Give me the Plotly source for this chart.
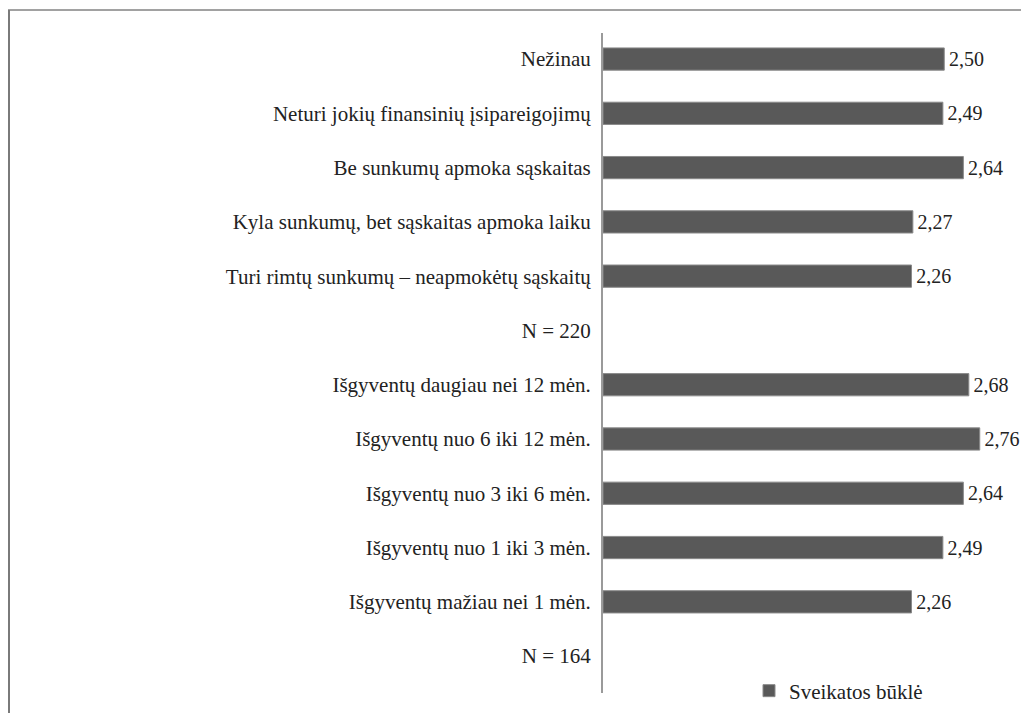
import plotly.graph_objects as go

# categories top to bottom
categories = [
    'Nežinau',
    'Neturi jokių finansinių įsipareigojimų',
    'Be sunkumų apmoka sąskaitas',
    'Kyla sunkumų, bet sąskaitas apmoka laiku',
    'Turi rimtų sunkumų – neapmokėtų sąskaitų',
    'N = 220',
    'Išgyventų daugiau nei 12 mėn.',
    'Išgyventų nuo 6 iki 12 mėn.',
    'Išgyventų nuo 3 iki 6 mėn.',
    'Išgyventų nuo 1 iki 3 mėn.',
    'Išgyventų mažiau nei 1 mėn.',
    'N = 164',
]
values = [2.50, 2.49, 2.64, 2.27, 2.26, None, 2.68, 2.76, 2.64, 2.49, 2.26, None]
series_name = 'Sveikatos būklė'

labels = ['\u200a' + f'{v:.2f}'.replace('.', ',') if v is not None else '' for v in values]

FONT = 'Liberation Serif'
FS = 21

W, H = 1021, 705
L, R, T, B = 595, 26, 25, 20
pw = W - L - R
ph = H - T - B

fig = go.Figure()
fig.add_trace(go.Bar(
    y=categories, x=values, orientation='h', name=series_name,
    marker=dict(color='#595959', line=dict(color='#8a8a8a', width=1)),
    text=labels, textposition='outside', cliponaxis=False, constraintext='none',
    textfont=dict(family=FONT, size=20, color='#222222'),
    showlegend=True,
))

fig.update_layout(
    width=W, height=H,
    margin=dict(l=L, r=R, t=T, b=B, autoexpand=False),
    paper_bgcolor='white', plot_bgcolor='white',
    font=dict(family=FONT, size=FS, color='#222222'),
    bargap=0.59,
    xaxis=dict(range=[0, pw / 136.5], visible=False, showgrid=False, zeroline=False),
    yaxis=dict(type='category', categoryorder='array', categoryarray=categories,
               range=[11.68, -0.48], showline=True, linecolor='#9a9a9a', linewidth=2,
               showgrid=False, zeroline=False, ticks='', ticklabelstandoff=6,
               tickfont=dict(family=FONT, size=FS, color='#222222')),
    legend=dict(x=(741 - L) / pw, y=(H - B - 683) / ph, xanchor='left', yanchor='middle',
                bgcolor='rgba(0,0,0,0)', font=dict(family=FONT, size=FS, color='#222222')),
    shapes=[
        dict(type='line', xref='paper', yref='paper',
             x0=(0 - L) / pw, x1=(1020 - L) / pw, y0=(H - B - 2) / ph, y1=(H - B - 2) / ph,
             line=dict(color='#444444', width=1)),
        dict(type='line', xref='paper', yref='paper',
             x0=(1 - L) / pw, x1=(1 - L) / pw, y0=(H - B - 2) / ph, y1=-0.1,
             line=dict(color='#7a7a7a', width=2)),
    ],
)

fig.write_html('out.html')
